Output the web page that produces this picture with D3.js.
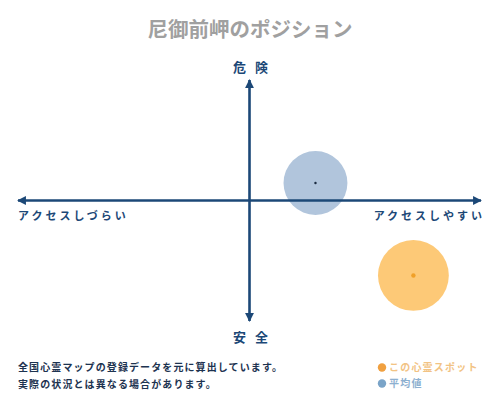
<!DOCTYPE html>
<html><head><meta charset="utf-8">
<script src="https://cdn.jsdelivr.net/npm/d3@7"></script>
<style>
html,body{margin:0;padding:0;background:#fff;}
svg{display:block;}
text{font-family:"Noto Sans CJK JP","Noto Sans",sans-serif;}
</style></head>
<body>
<svg id="chart" width="500" height="400"></svg>
<script>
// ---- data ----
const titleText = "尼御前岬のポジション";
const axisTop = "危 険";
const axisBottom = "安 全";
const axisLeft = "アクセスしづらい";
const axisRight = "アクセスしやすい";
const seriesNames = ["この心霊スポット", "平均値"];
const xValues = [0.708, 0.285];   // access (-1 hard .. +1 easy)
const yValues = [-0.622, 0.145];  // danger (-1 safe .. +1 danger)
const rValues = [0.153, 0.138];   // bubble radius in x units
const noteLines = ["全国心霊マップの登録データを元に算出しています。", "実際の状況とは異なる場合があります。"];

// ---- styles ----
const fillColors = ["#fdc977", "#b1c5dc"];
const dotColors = ["#f0a028", "#1a2a40"];
const legendDot = ["#f0a040", "#7aa4c8"];
const legendText = ["#f2c384", "#8db0d0"];
const axisColor = "#1c4877";

const svg = d3.select("#chart");
const x = d3.scaleLinear().domain([-1, 1]).range([18, 481]);
const y = d3.scaleLinear().domain([-1, 1]).range([321, 80]);

// title
svg.append("text").attr("x", 250).attr("y", 37).attr("text-anchor", "middle")
  .attr("font-size", 20.5).attr("font-weight", 700).attr("fill", "#a0a0a0")
  .text(titleText);

// arrow markers
const defs = svg.append("defs");
defs.append("marker").attr("id", "arr").attr("viewBox", "0 0 10 10")
  .attr("refX", 9).attr("refY", 5).attr("markerWidth", 3.4).attr("markerHeight", 3.4)
  .attr("orient", "auto-start-reverse").attr("markerUnits", "strokeWidth")
  .append("path").attr("d", "M0,0 L10,5 L0,10 Z").attr("fill", axisColor);

// bubbles (drawn first so axes are on top)
const data = seriesNames.map((n, i) => ({n, x: xValues[i], y: yValues[i], r: rValues[i], i}));
const pxPerUnit = x(1) - x(0);
svg.selectAll("circle.bub").data(data.slice().reverse()).join("circle").attr("class", "bub")
  .attr("cx", d => x(d.x)).attr("cy", d => y(d.y)).attr("r", d => d.r * pxPerUnit)
  .attr("fill", d => fillColors[d.i]);

// axes
svg.append("line").attr("x1", x(-1)).attr("x2", x(1)).attr("y1", y(0)).attr("y2", y(0))
  .attr("stroke", axisColor).attr("stroke-width", 2.6)
  .attr("marker-start", "url(#arr)").attr("marker-end", "url(#arr)");
svg.append("line").attr("x1", x(0)).attr("x2", x(0)).attr("y1", y(1)).attr("y2", y(-1))
  .attr("stroke", axisColor).attr("stroke-width", 2.6)
  .attr("marker-start", "url(#arr)").attr("marker-end", "url(#arr)");

// center dots
svg.selectAll("circle.dot").data(data).join("circle").attr("class", "dot")
  .attr("cx", d => x(d.x)).attr("cy", d => y(d.y)).attr("r", d => d.i === 0 ? 2.2 : 1.2)
  .attr("fill", d => dotColors[d.i]);

// axis labels
svg.append("text").attr("x", x(0) + 2.5).attr("y", 72).attr("text-anchor", "middle")
  .attr("font-size", 13).attr("font-weight", 700).attr("letter-spacing", 3)
  .attr("fill", axisColor).text(axisTop);
svg.append("text").attr("x", x(0) + 2.5).attr("y", 342).attr("text-anchor", "middle")
  .attr("font-size", 13).attr("font-weight", 700).attr("letter-spacing", 3)
  .attr("fill", axisColor).text(axisBottom);
svg.append("text").attr("x", x(-1)).attr("y", 220).attr("text-anchor", "start")
  .attr("font-size", 11).attr("font-weight", 700).attr("letter-spacing", 3).attr("fill", axisColor).text(axisLeft);
svg.append("text").attr("x", x(1) + 4).attr("y", 220).attr("text-anchor", "end")
  .attr("font-size", 11).attr("font-weight", 700).attr("letter-spacing", 3).attr("fill", axisColor).text(axisRight);

// notes
svg.selectAll("text.note").data(noteLines).join("text").attr("class", "note")
  .attr("x", 18).attr("y", (d, i) => 371 + i * 16.5)
  .attr("font-size", 10).attr("font-weight", 700).attr("letter-spacing", 1.1)
  .attr("fill", "#1d3350").text(d => d);

// legend
const lg = svg.selectAll("g.lg").data(data).join("g").attr("class", "lg")
  .attr("transform", (d, i) => `translate(382,${367.5 + i * 16})`);
lg.append("circle").attr("r", 4.2).attr("fill", d => legendDot[d.i]);
lg.append("text").attr("x", 7).attr("y", 3.8).attr("font-size", 10).attr("font-weight", 700)
  .attr("letter-spacing", 1.2).attr("fill", d => legendText[d.i]).text(d => d.n);
</script>
</body></html>
